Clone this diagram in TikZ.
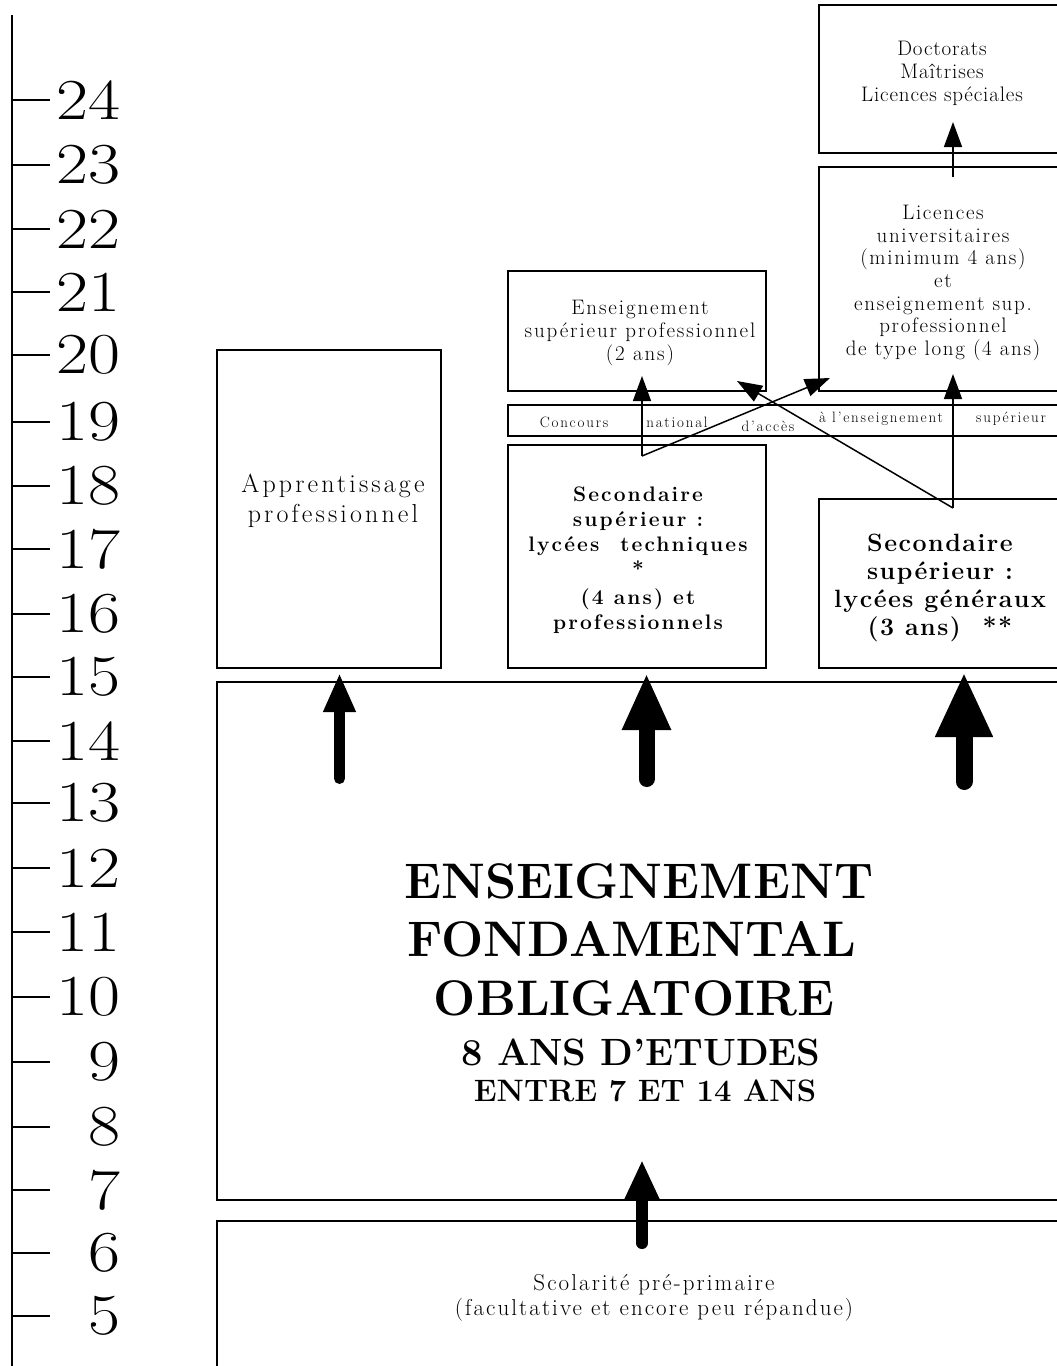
\documentclass[tikz,border=0pt]{standalone}
\usepackage{fontspec}
\setmainfont{Latin Modern Roman}
\usetikzlibrary{arrows.meta}
\newcommand{\fs}[2]{\fontsize{#1}{#2}\selectfont}
\newcommand{\ls}[1]{\addfontfeature{LetterSpace=#1}}
\begin{document}
\begin{tikzpicture}[x=1pt,y=-1pt,
  box/.style={draw, line width=1.5pt, inner sep=0pt},
  tick/.style={line width=1.5pt},
  num/.style={anchor=east, inner sep=0pt, font=\fs{58}{58}},
  txt/.style={inner sep=0pt, align=center},
  thinarrow/.style={line width=1.5pt, -{Triangle[width=18pt,length=25pt]}},
  bigarrow/.style={line cap=round, -{Triangle[width=#1]}},
]
\useasboundingbox (0,0) rectangle (1057,1366);
% axis
\coordinate (axtop) at (12,15);
\coordinate (axbot) at (12,1366);
\draw[line width=2pt] (axtop) -- (axbot);
\foreach \n/\y in {24/100,23/165,22/229,21/292,20/355,19/422,18/486,17/549,16/614,15/677,14/741,13/803,12/868,11/932,10/997,9/1062,8/1127,7/1190,6/1253,5/1316}{
  \coordinate (t\n) at (12,\y);
  \coordinate (te\n) at (50,\y);
  \draw[tick] (t\n) -- (te\n);
  \node[num] (n\n) at (121,\y) {\scalebox{1.2}[1]{\n}};
}
% boxes
\node[box, minimum width=251pt, minimum height=148pt] (doct) at (944.5,79) {};
\node[box, minimum width=251pt, minimum height=224pt] (lic) at (944.5,279) {};
\node[box, minimum width=258pt, minimum height=120pt] (esp) at (637,331) {};
\node[box, minimum width=562pt, minimum height=31pt] (conc) at (789,420.5) {};
\node[box, minimum width=258pt, minimum height=223pt] (sect) at (637,556.5) {};
\node[box, minimum width=251pt, minimum height=169pt] (secg) at (944.5,583.5) {};
\node[box, minimum width=224pt, minimum height=318pt] (appr) at (329,509) {};
\node[box, minimum width=853pt, minimum height=518pt] (fond) at (643.5,941) {};
\node[box, minimum width=853pt, minimum height=159pt] (pre) at (643.5,1300.5) {};
% texts
\node[txt, font=\fs{21}{23}\ls{4}] (tdoct) at (942,73) {Doctorats\\Maîtrises\\Licences spéciales};
\node[txt, font=\fs{21}{22.6}\ls{8}] (tlic) at (943,283) {Licences\\universitaires\\(minimum 4 ans)\\et\\enseignement sup.\\professionnel\\de type long (4 ans)};
\node[txt, font=\fs{21}{23}\ls{9}] (tesp) at (640,333) {Enseignement\\supérieur professionnel\\(2 ans)};
\node[txt, font=\fs{26}{30}\ls{12}] (tappr) at (333,501) {Apprentissage\\professionnel};
\node[txt, font=\fs{15}{15}\ls{12}] (c1) at (574,422) {Concours};
\node[txt, font=\fs{15}{15}\ls{12}] (c2) at (677,422) {national};
\node[txt, font=\fs{15}{15}\ls{12}] (c3) at (768,426) {d’accès};
\node[txt, font=\fs{15}{15}\ls{12}] (c4) at (881,419) {à l’enseignement};
\node[txt, font=\fs{15}{15}\ls{12}] (c5) at (1011,419) {supérieur};
\node[txt, font=\bfseries\fs{21}{25}\ls{10}] (tsect) at (638,560) {Secondaire\\supérieur :\\lycées\quad techniques\\*\\[3pt](4 ans) et\\professionnels};
\node[txt, font=\bfseries\fs{25}{28}\ls{6}] (tsecg) at (940,588) {Secondaire\\supérieur :\\lycées généraux\\(3 ans)\ \ **};
\node[txt, font=\bfseries\fs{50}{50}] (f1) at (639,881) {ENSEIGNEMENT};
\node[txt, font=\bfseries\fs{50}{50}] (f2) at (632,939) {FONDAMENTAL};
\node[txt, font=\bfseries\fs{50}{50}] (f3) at (634,998) {OBLIGATOIRE};
\node[txt, font=\bfseries\fs{38}{38}] (f4) at (641,1052) {8 ANS D’ETUDES};
\node[txt, font=\bfseries\fs{31}{31}] (f5) at (645,1091) {ENTRE 7 ET 14 ANS};
\node[txt, font=\fs{23}{25}\ls{9}] (tpre) at (654,1298) {Scolarité pré-primaire\\(facultative et encore peu répandue)};
% thin connectors
\coordinate (a1s) at (953,177); \coordinate (a1e) at (953,122);
\draw[thinarrow] (a1s) -- (a1e);
\coordinate (v1) at (642,456); \coordinate (v1a) at (642,376); \coordinate (v1b) at (830,378);
\draw[thinarrow] (v1) -- (v1a);
\draw[thinarrow] (v1) -- (v1b);
\coordinate (v2) at (953,508); \coordinate (v2a) at (953,374); \coordinate (v2b) at (737,381);
\draw[thinarrow] (v2) -- (v2a);
\draw[thinarrow] (v2) -- (v2b);
% thick arrows
\coordinate (b1s) at (339.5,778.5); \coordinate (b1e) at (339.5,673);
\draw[line width=11pt, bigarrow={30pt,length=39pt}] (b1s) -- (b1e);
\coordinate (b2s) at (646.5,779); \coordinate (b2e) at (646.5,673);
\draw[line width=16pt, bigarrow={45pt,length=57pt}] (b2s) -- (b2e);
\coordinate (b3s) at (964,781.5); \coordinate (b3e) at (964,672);
\draw[line width=17pt, bigarrow={53pt,length=65pt}] (b3s) -- (b3e);
\coordinate (b4s) at (642,1243); \coordinate (b4e) at (642,1160);
\draw[line width=12pt, bigarrow={32pt,length=39pt}] (b4s) -- (b4e);
\end{tikzpicture}
\end{document}
